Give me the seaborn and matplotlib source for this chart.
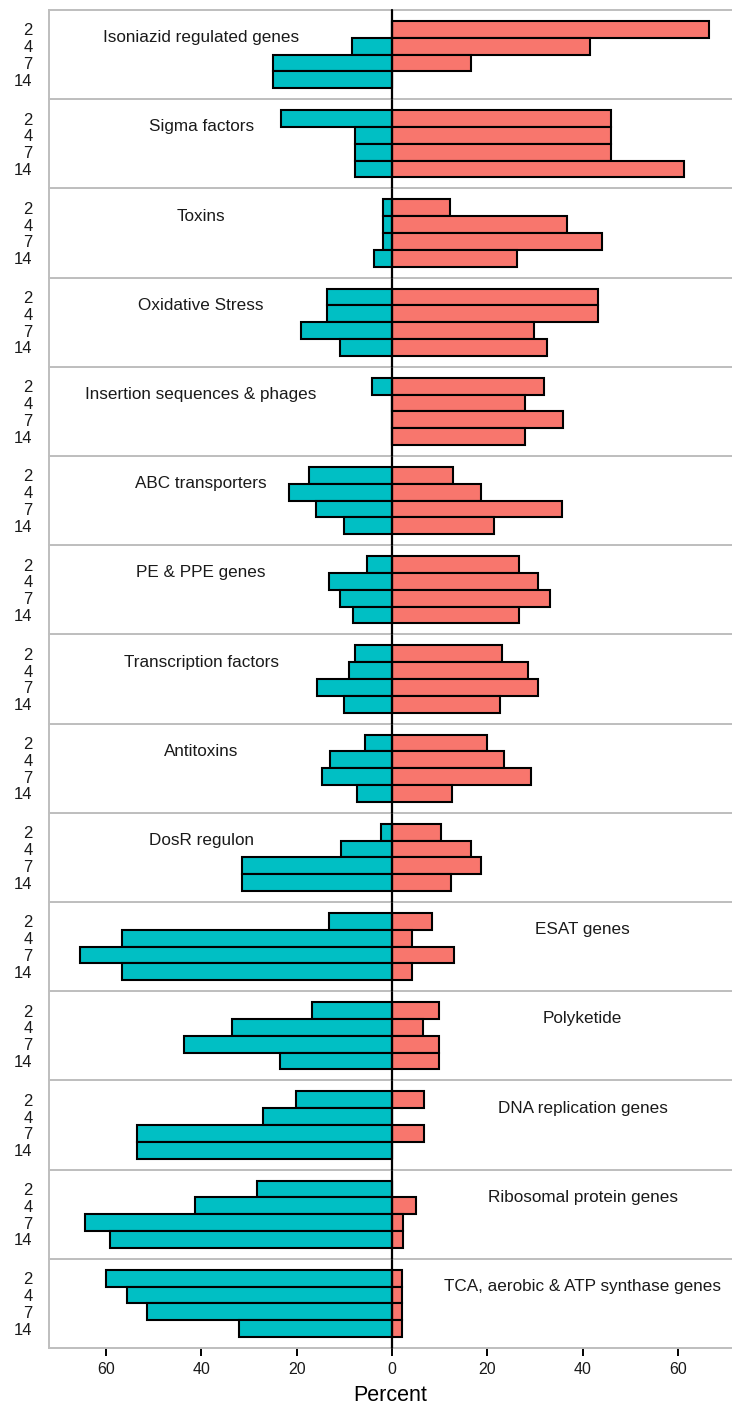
import matplotlib
matplotlib.use("Agg")
import matplotlib.pyplot as plt
import seaborn as sns
import pandas as pd

# Gene categories, top to bottom
categories = [
    "Isoniazid regulated genes", "Sigma factors", "Toxins", "Oxidative Stress",
    "Insertion sequences & phages", "ABC transporters", "PE & PPE genes",
    "Transcription factors", "Antitoxins", "DosR regulon", "ESAT genes",
    "Polyketide", "DNA replication genes", "Ribosomal protein genes",
    "TCA, aerobic & ATP synthase genes",
]
days = ["2", "4", "7", "14"]

# Percent of genes up-regulated at day 2, 4, 7, 14
up_pct = [
    [66.5, 41.5, 16.5, 0.0],
    [46.0, 46.0, 46.0, 61.2],
    [12.2, 36.8, 44.0, 26.3],
    [43.3, 43.3, 29.7, 32.5],
    [31.9, 27.9, 35.9, 27.9],
    [12.9, 18.6, 35.7, 21.5],
    [26.7, 30.6, 33.2, 26.7],
    [23.1, 28.6, 30.7, 22.6],
    [20.0, 23.5, 29.1, 12.6],
    [10.3, 16.5, 18.7, 12.4],
    [8.5, 4.2, 13.0, 4.2],
    [9.9, 6.6, 9.9, 9.9],
    [6.7, 0.0, 6.7, 0.0],
    [0.0, 5.0, 2.4, 2.4],
    [2.1, 2.1, 2.1, 2.1],
]

# Percent of genes down-regulated at day 2, 4, 7, 14 (drawn to the left)
down_pct = [
    [0.0, 8.3, 24.9, 24.9],
    [23.2, 7.7, 7.7, 7.7],
    [1.9, 1.9, 1.9, 3.8],
    [13.6, 13.6, 19.1, 10.8],
    [4.2, 0.0, 0.0, 0.0],
    [17.3, 21.5, 15.9, 10.1],
    [5.3, 13.3, 10.8, 8.1],
    [7.7, 9.0, 15.8, 10.1],
    [5.6, 12.9, 14.6, 7.4],
    [2.4, 10.6, 31.4, 31.4],
    [13.1, 56.7, 65.5, 56.7],
    [16.8, 33.5, 43.6, 23.5],
    [20.1, 27.0, 53.5, 53.5],
    [28.4, 41.2, 64.3, 59.2],
    [59.9, 55.6, 51.4, 32.0],
]

# Categories whose title sits on the right half of the panel
right_titles = {"ESAT genes", "Polyketide", "DNA replication genes",
                "Ribosomal protein genes", "TCA, aerobic & ATP synthase genes"}

UP_COLOR = "#F8766D"
DOWN_COLOR = "#00BFC4"
FRAME = "#BEBEBE"
TEXT = "#1a1a1a"

sns.set_style("white")
plt.rcParams["font.family"] = ["Liberation Sans", "DejaVu Sans"]

n = len(categories)
fig, axes = plt.subplots(n, 1, figsize=(7.32, 14.05), dpi=100,
                         sharex=True, gridspec_kw={"hspace": 0})
fig.subplots_adjust(left=0.067, right=1.0, top=1 - 10 / 1405, bottom=1 - 1348 / 1405)

for i, (ax, cat) in enumerate(zip(axes, categories)):
    # upper panels sit above lower ones so the zero line runs unbroken
    ax.set_zorder(n - i)
    df = pd.DataFrame({
        "day": days * 2,
        "value": up_pct[i] + [-v for v in down_pct[i]],
        "direction": ["up"] * 4 + ["down"] * 4,
    })
    sns.barplot(data=df, x="value", y="day", hue="direction", order=days,
                hue_order=["up", "down"], palette={"up": UP_COLOR, "down": DOWN_COLOR},
                saturation=1, dodge=False, width=1.0, edgecolor="black",
                linewidth=1.5, legend=False, ax=ax)
    ax.axvline(0, color="black", linewidth=1.6, zorder=10, clip_on=False)
    ax.set_xlim(-71.9, 71.3)
    ax.set_ylim(4.15, -1.15)
    ax.set_ylabel("")
    ax.set_xlabel("")
    ax.tick_params(axis="y", length=0, pad=12, labelsize=12, labelcolor=TEXT)
    ax.tick_params(axis="x", length=0)
    for side in ("top", "bottom", "left"):
        ax.spines[side].set_visible(True)
        ax.spines[side].set_color(FRAME)
        ax.spines[side].set_linewidth(1.4)
    ax.spines["right"].set_visible(False)
    tx = 40 if cat in right_titles else -40
    ax.text(tx, 0.5, cat, ha="center", va="center", fontsize=12.3, color=TEXT)

bottom = axes[-1]
ticks = [-60, -40, -20, 0, 20, 40, 60]
bottom.set_xticks(ticks)
bottom.set_xticklabels([str(abs(t)) for t in ticks])
bottom.tick_params(axis="x", length=6, width=1.4, color="black", pad=4,
                   labelsize=11.5, labelcolor=TEXT, bottom=True)
bottom.set_xlabel("Percent", fontsize=15.5, color="black", labelpad=6)

fig.savefig("out.png", dpi=100)
